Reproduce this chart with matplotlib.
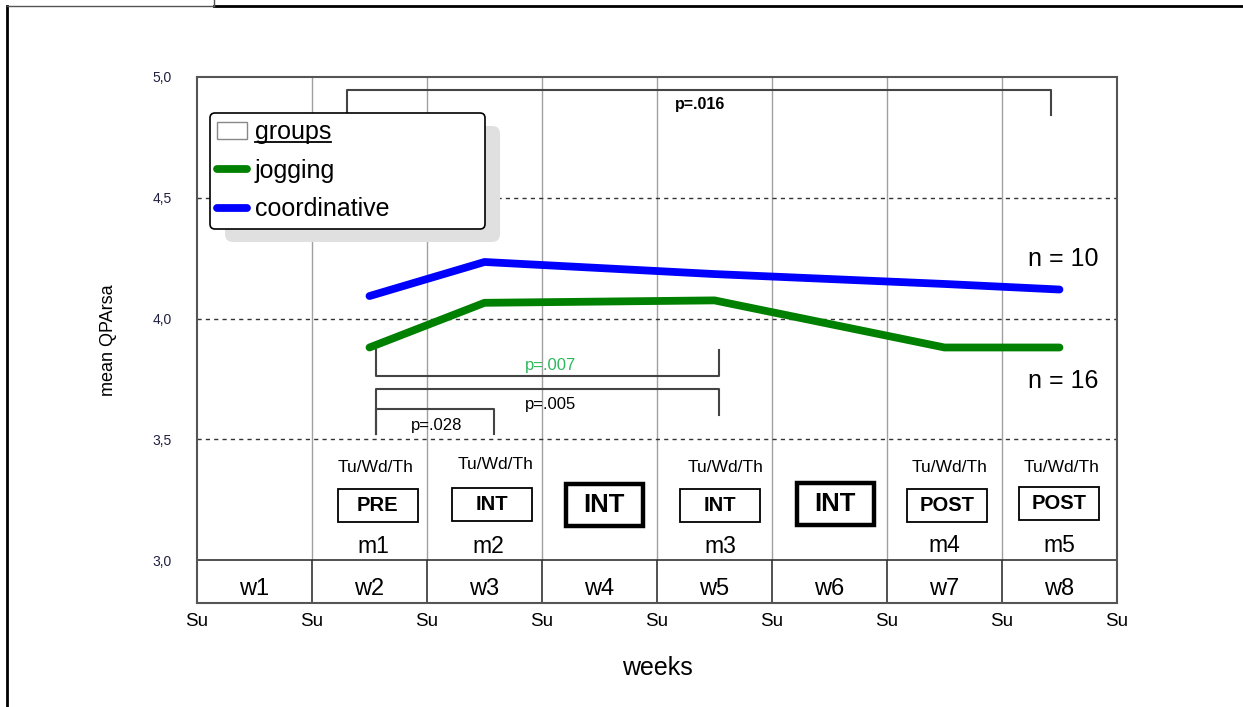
import matplotlib
matplotlib.use('Agg')
import matplotlib.pyplot as plt
from matplotlib.lines import Line2D
from matplotlib.patches import Rectangle, FancyBboxPatch

plt.rcParams['font.family'] = ['Liberation Sans', 'DejaVu Sans']

# data: x is time in weeks counted from the first Sunday
meas_x = [1.5, 2.5, 4.5, 6.5, 7.5]
jogging = [3.88, 4.065, 4.075, 3.88, 3.88]
coordinative = [4.093, 4.234, 4.184, 4.143, 4.12]
meas_names = ['m1', 'm2', 'm3', 'm4', 'm5']
week_names = ['w1', 'w2', 'w3', 'w4', 'w5', 'w6', 'w7', 'w8']
session_names = ['PRE', 'INT', 'INT', 'INT', 'INT', 'POST', 'POST']
session_tested = [True, True, False, True, False, True, True]
y_ticks = [3.0, 3.5, 4.0, 4.5, 5.0]
y_ticklabels = ['3,0', '3,5', '4,0', '4,5', '5,0']
n_jog, n_coord = 16, 10

# layout (label / box positions in data units)
session_x = [1.57, 2.565, 3.54, 4.55, 5.55, 6.52, 7.5]
session_y = [3.226, 3.23, 3.228, 3.224, 3.23, 3.226, 3.234]
day_x = [1.557, 2.6, 4.6, 6.54, 7.52]
day_y = [3.381, 3.397, 3.381, 3.381, 3.381]
m_x = [1.53, 2.53, 4.55, 6.5, 7.5]
m_y = [3.054, 3.056, 3.056, 3.062, 3.062]

fig = plt.figure(figsize=(12.43, 7.07), dpi=100)
ax = fig.add_axes([0.1585, 0.1471, 0.7401, 0.744])
ax.set_xlim(0, 8)
ax.set_ylim(2.822, 5.0)

for s in ax.spines.values():
    s.set_color('#555555')
    s.set_linewidth(1.5)

# grid
ax.vlines(range(1, 8), 3.0, 5.0, color='#a0a0a0', lw=1, zorder=1)
ax.vlines(range(1, 8), 2.822, 3.0, color='#333333', lw=1.2, zorder=1)
ax.axhline(3.0, color='#333333', lw=1.2, zorder=1)
for yv in [3.5, 4.0, 4.5]:
    ax.axhline(yv, color='#333333', lw=1, dashes=(3, 3), zorder=1)

ax.set_yticks(y_ticks)
ax.set_yticklabels(y_ticklabels, fontsize=10, color='#202040')
ax.set_xticks(range(9))
ax.set_xticklabels(['Su'] * 9, fontsize=13.5)
ax.tick_params(length=0)
ax.tick_params(axis='y', pad=18)
ax.tick_params(axis='x', pad=7)
ax.set_ylabel('mean QPArsa', fontsize=13, labelpad=26)
ax.set_xlabel('weeks', fontsize=18, labelpad=19)

# lines
ax.plot(meas_x, jogging, color='#008000', lw=5.6, solid_capstyle='round', zorder=4)
ax.plot(meas_x, coordinative, color='#0000ff', lw=5.6, solid_capstyle='round', zorder=4)
ax.text(7.53, 4.246, 'n = %d' % n_coord, fontsize=18, ha='center', va='center')
ax.text(7.53, 3.741, 'n = %d' % n_jog, fontsize=18, ha='center', va='center')

# week labels
for i, w in enumerate(week_names):
    ax.text(i + 0.5, 2.88, w, fontsize=17, ha='center', va='center')

# session boxes
for i, (name, tested) in enumerate(zip(session_names, session_tested)):
    if tested:
        bw, bh, lw, fs = 0.696, 0.137, 1.3, 14.5
    else:
        bw, bh, lw, fs = 0.67, 0.174, 3.2, 18.5
    ax.add_patch(Rectangle((session_x[i] - bw / 2, session_y[i] - bh / 2), bw, bh,
                           fill=False, ec='black', lw=lw, zorder=3))
    ax.text(session_x[i], session_y[i], name, fontsize=fs, fontweight='bold',
            ha='center', va='center')

for x, y in zip(day_x, day_y):
    ax.text(x, y, 'Tu/Wd/Th', fontsize=12.5, ha='center', va='center')
for x, y, m in zip(m_x, m_y, meas_names):
    ax.text(x, y, m, fontsize=16.5, ha='center', va='center')

# significance brackets
bk = dict(color='#444444', lw=1.5, zorder=2)
ax.plot([1.304, 1.304, 7.426, 7.426], [4.80, 4.946, 4.946, 4.843], **bk)
ax.text(4.374, 4.888, 'p=.016', fontsize=11.5, fontweight='bold', ha='center', va='center')
ax.plot([1.557, 1.557, 4.539, 4.539], [3.870, 3.762, 3.762, 3.870], **bk)
ax.text(3.078, 3.807, 'p=.007', fontsize=12, color='#2eb85c', ha='center', va='center')
ax.plot([1.557, 1.557, 4.539, 4.539], [3.522, 3.708, 3.708, 3.600], **bk)
ax.text(3.078, 3.642, 'p=.005', fontsize=12, ha='center', va='center')
ax.plot([1.557, 1.557, 2.583, 2.583], [3.522, 3.625, 3.625, 3.522], **bk)
ax.text(2.087, 3.559, 'p=.028', fontsize=12, ha='center', va='center')

# legend
handles = [Rectangle((0, 0), 1, 1, fc='white', ec='#888888', lw=1),
           Line2D([], [], color='#008000', lw=5.6, solid_capstyle='round'),
           Line2D([], [], color='#0000ff', lw=5.6, solid_capstyle='round')]
leg = ax.legend(handles, ['groups', 'jogging', 'coordinative'], loc='upper left',
                bbox_to_anchor=(0.0141, 0.5, 0.299, 0.4316), mode='expand',
                borderaxespad=0, fontsize=18,
                handlelength=1.2, handletextpad=0.3, labelspacing=0.58,
                borderpad=0.3, fancybox=True, framealpha=1, edgecolor='black')
leg.get_frame().set_linewidth(1.2)
leg.set_zorder(6)

fig.canvas.draw()
bb = leg.get_window_extent()
shadow = FancyBboxPatch((bb.x0 + 15, bb.y0 - 13), bb.width, bb.height,
                        boxstyle='round,pad=0,rounding_size=8', transform=None,
                        fc='#e0e0e0', ec='none', zorder=5)
ax.add_artist(shadow)
tb = leg.get_texts()[0].get_window_extent()
fig.add_artist(Line2D([tb.x0, tb.x1], [tb.y0 + 2, tb.y0 + 2], transform=None,
                      color='black', lw=1.3, zorder=10))

# outer page frame
fig.add_artist(Line2D([0.0056, 0.0056], [0.0, 0.9915], transform=fig.transFigure,
                      color='black', lw=2))
fig.add_artist(Line2D([0.172, 1.0], [0.9915, 0.9915], transform=fig.transFigure,
                      color='black', lw=2))
fig.add_artist(Line2D([0.0056, 0.172], [0.992, 0.992], transform=fig.transFigure,
                      color='#555555', lw=1))
fig.add_artist(Line2D([0.172, 0.172], [0.992, 1.0], transform=fig.transFigure,
                      color='#555555', lw=1))

fig.savefig('out.png', dpi=100)
